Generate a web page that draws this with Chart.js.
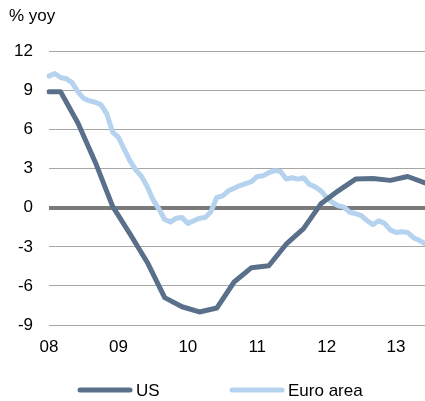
<!DOCTYPE html>
<html lang="en">
<head>
<meta charset="UTF-8">
<title>US vs Euro area, % yoy</title>
<script src="https://cdn.jsdelivr.net/npm/chart.js@4.4.0/dist/chart.umd.min.js"></script>
<style>
    html, body { margin: 0; padding: 0; background: #fff; }
    .wrap { width: 425px; height: 401px; }
</style>
</head>
<body>
<div class="wrap"><canvas id="chart"></canvas></div>
<script>
    // monthly axis, Jan 08 .. Jun 13
    const years = ['08', '09', '10', '11', '12', '13'];
    const monthNames = ['Jan', 'Feb', 'Mar', 'Apr', 'May', 'Jun', 'Jul', 'Aug', 'Sep', 'Oct', 'Nov', 'Dec'];
    const lastMonth = 'Jun 13';
    const yTicks = [-9, -6, -3, 0, 3, 6, 9, 12];

    const labels = [];
    for (const yr of years) {
        for (const m of monthNames) {
            if (labels.length && labels[labels.length - 1] === lastMonth) break;
            labels.push(m + ' ' + yr);
        }
    }

    // US: quarterly readings
    const usMonths = ['Jan 08', 'Mar 08', 'Jun 08', 'Sep 08', 'Dec 08', 'Mar 09', 'Jun 09', 'Sep 09', 'Dec 09',
        'Mar 10', 'Jun 10', 'Sep 10', 'Dec 10', 'Mar 11', 'Jun 11', 'Sep 11', 'Dec 11',
        'Mar 12', 'Jun 12', 'Sep 12', 'Dec 12', 'Mar 13', 'Jun 13'];
    const usValues = [8.9, 8.9, 6.5, 3.5, 0.1, -2.0, -4.2, -6.9, -7.6,
        -8.0, -7.7, -5.7, -4.6, -4.45, -2.8, -1.6, 0.3,
        1.3, 2.2, 2.25, 2.1, 2.4, 1.9];

    // Euro area: monthly readings
    const euroValues = [
        10.1, 10.3, 10.0, 9.9, 9.6, 8.9, 8.4, 8.2, 8.1, 7.9, 7.2, 5.8,
        5.4, 4.5, 3.6, 2.9, 2.4, 1.6, 0.6, -0.1, -0.9, -1.1, -0.8, -0.75,
        -1.2, -1.0, -0.8, -0.75, -0.3, 0.8, 0.9, 1.3, 1.5, 1.7, 1.85, 2.0,
        2.4, 2.45, 2.7, 2.85, 2.8, 2.2, 2.3, 2.2, 2.3, 1.8, 1.6, 1.3,
        0.8, 0.4, 0.15, 0.05, -0.35, -0.45, -0.6, -1.0, -1.3, -1.0, -1.2, -1.7,
        -1.9, -1.85, -1.9, -2.3, -2.5, -2.75
    ];

    const FONT = '"Liberation Sans", Arial, sans-serif';
    const FONT_SIZE = 17;

    // legend drawn by hand: line sample + label under the plot
    const lineLegend = {
        id: 'lineLegend',
        afterDraw(chart) {
            const ctx = chart.ctx;
            const xs = [80, 232];
            const y = 390;
            ctx.save();
            chart.data.datasets.forEach((ds, i) => {
                ctx.strokeStyle = ds.borderColor;
                ctx.lineWidth = 5;
                ctx.lineCap = 'round';
                ctx.beginPath();
                ctx.moveTo(xs[i], y);
                ctx.lineTo(xs[i] + 50, y);
                ctx.stroke();
                ctx.fillStyle = '#000';
                ctx.font = FONT_SIZE + 'px ' + FONT;
                ctx.textBaseline = 'middle';
                ctx.fillText(ds.label, xs[i] + 56, y + 1);
            });
            ctx.restore();
        }
    };

    new Chart(document.getElementById('chart'), {
        type: 'line',
        data: {
            labels: labels,
            datasets: [{
                label: 'US',
                data: usMonths.map((m, i) => ({ x: m, y: usValues[i] })),
                borderColor: '#5a708a',
                borderWidth: 5,
                borderCapStyle: 'round',
                borderJoinStyle: 'round',
                pointRadius: 0,
                tension: 0
            }, {
                label: 'Euro area',
                data: euroValues,
                borderColor: '#b5d2ef',
                borderWidth: 5,
                borderCapStyle: 'round',
                borderJoinStyle: 'round',
                pointRadius: 0,
                tension: 0
            }]
        },
        options: {
            responsive: true,
            maintainAspectRatio: false,
            animation: false,
            layout: { padding: { left: 9, right: 0, top: 6, bottom: 40 } },
            plugins: {
                legend: { display: false },
                tooltip: { enabled: false },
                title: {
                    display: true,
                    text: '% yoy',
                    align: 'start',
                    color: '#000',
                    font: { family: FONT, size: FONT_SIZE, weight: 'normal' },
                    padding: { top: 0, bottom: 25 }
                }
            },
            scales: {
                x: {
                    type: 'category',
                    offset: false,
                    afterFit: scale => { scale.height = 36; },
                    grid: { display: false, drawTicks: false },
                    border: { display: false },
                    ticks: {
                        autoSkip: false,
                        maxRotation: 0,
                        padding: 12,
                        color: '#000',
                        font: { family: FONT, size: FONT_SIZE },
                        callback: function (val) {
                            const lab = this.getLabelForValue(val);
                            return lab.startsWith('Jan') ? lab.slice(4) : null;
                        }
                    }
                },
                y: {
                    min: -9,
                    max: 12,
                    afterFit: scale => { scale.width = 40; },
                    afterBuildTicks: scale => { scale.ticks = yTicks.map(v => ({ value: v })); },
                    grid: {
                        drawTicks: false,
                        color: c => c.tick.value === 0 ? '#7a7a7a' : '#a6a6a6',
                        lineWidth: c => c.tick.value === 0 ? 4 : 1
                    },
                    border: { display: false },
                    ticks: {
                        padding: 16,
                        color: '#000',
                        font: { family: FONT, size: FONT_SIZE }
                    }
                }
            }
        },
        plugins: [lineLegend]
    });
</script>
</body>
</html>
